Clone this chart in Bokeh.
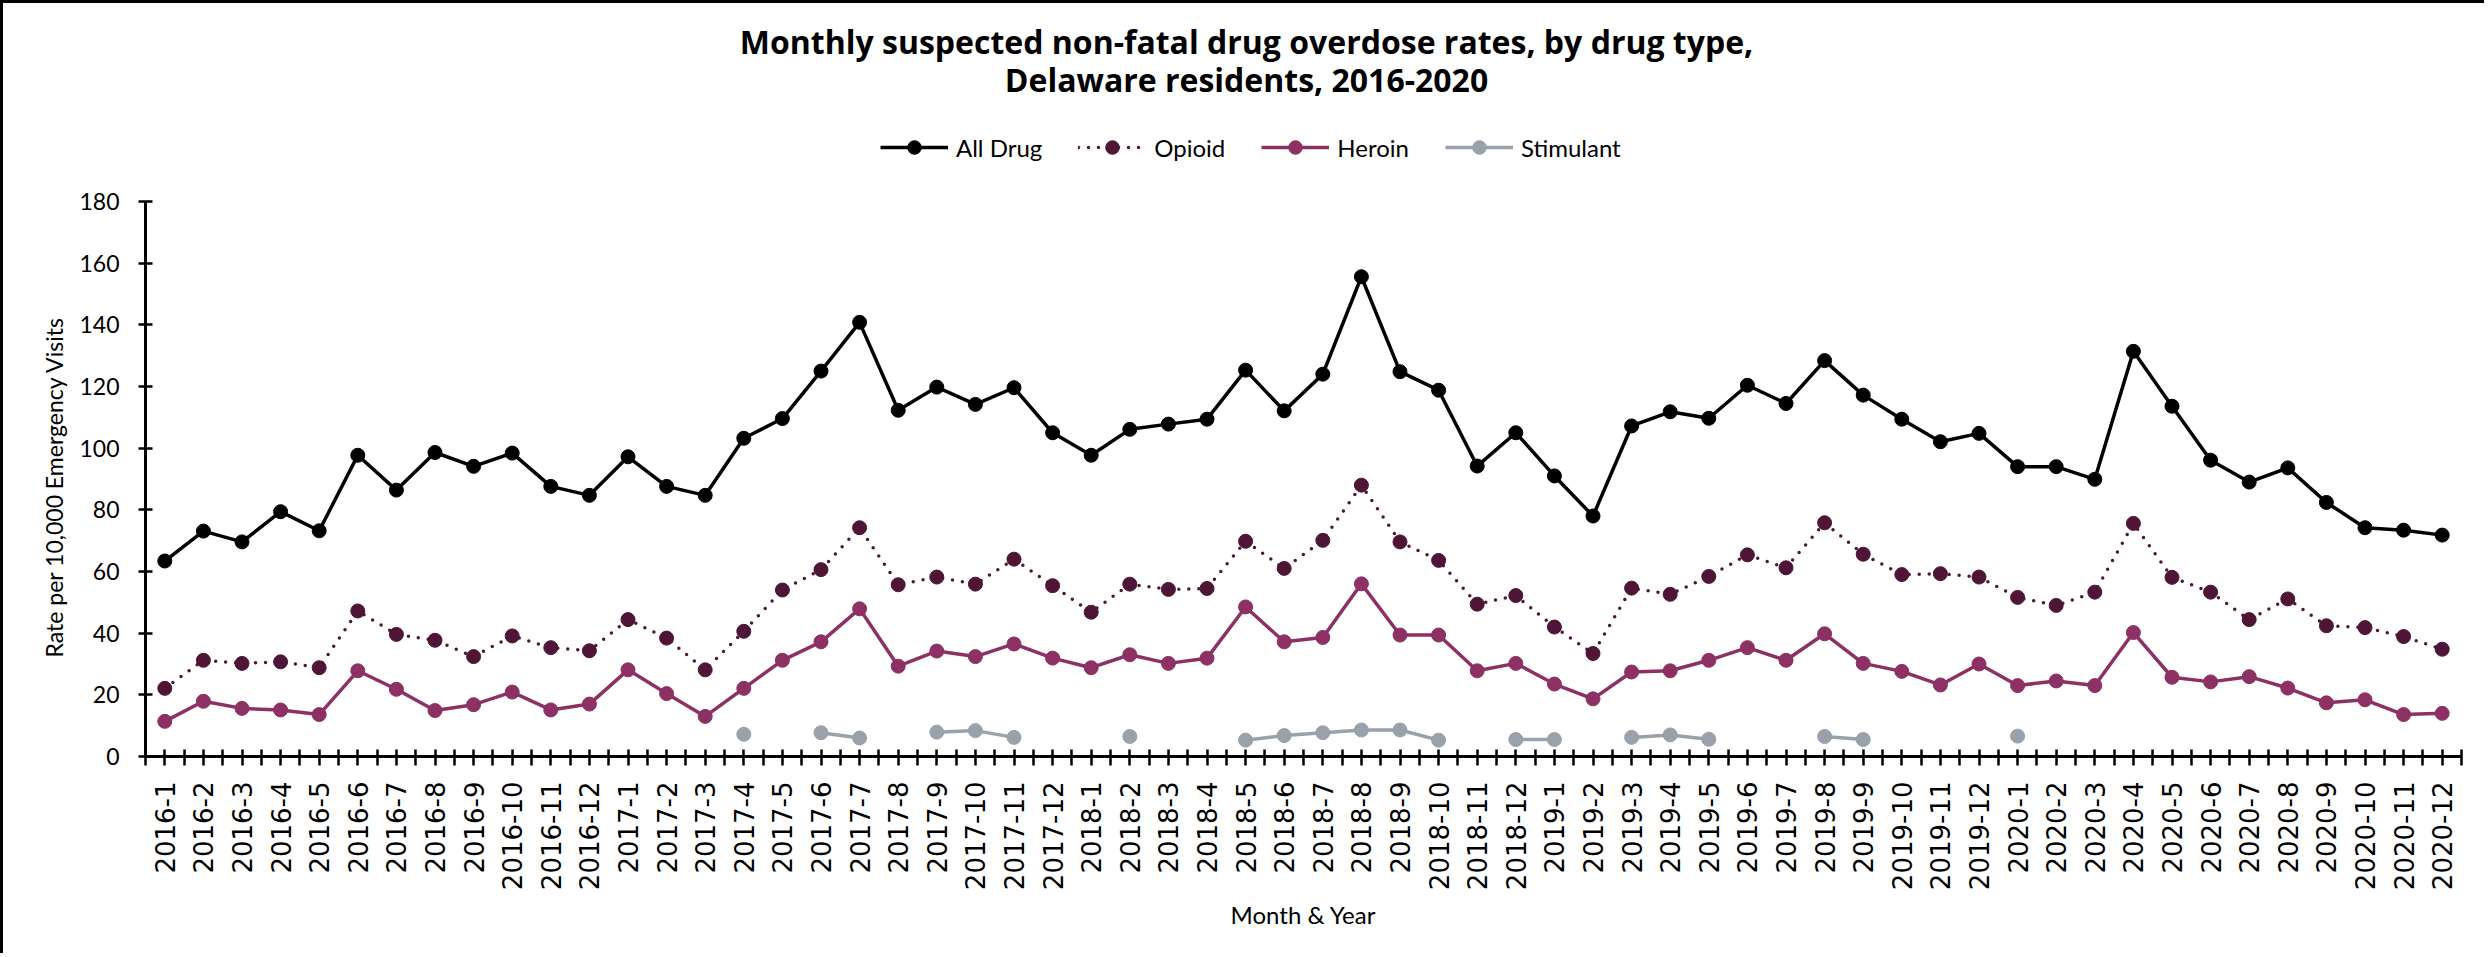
import math
import numpy as np
from bokeh.plotting import figure
from bokeh.models import (Range1d, FixedTicker, Legend, LegendItem, Label, Title,
                          ColumnDataSource)
from bokeh.embed import file_html
from bokeh.resources import INLINE

# ---------------- data ----------------
years = [2016, 2017, 2018, 2019, 2020]
months = list(range(1, 13))
categories = [f"{y}-{m}" for y in years for m in months]

all_drug = [63.4, 73.1, 69.6, 79.4, 73.2, 97.7, 86.4, 98.6, 94.1, 98.4, 87.6, 84.7,
            97.2, 87.6, 84.7, 103.2, 109.6, 125.0, 140.8, 112.3, 119.8, 114.2, 119.6, 105.0,
            97.7, 106.1, 107.8, 109.4, 125.3, 112.1, 124.0, 155.6, 124.8, 118.8, 94.2, 105.0,
            91.0, 78.0, 107.2, 111.8, 109.7, 120.4, 114.5, 128.4, 117.2, 109.4, 102.1, 104.8,
            94.0, 94.0, 89.9, 131.4, 113.6, 96.1, 89.0, 93.6, 82.4, 74.2, 73.4, 71.8]

opioid = [22.1, 31.2, 30.2, 30.7, 28.8, 47.2, 39.6, 37.7, 32.4, 39.1, 35.3, 34.3,
          44.4, 38.4, 28.1, 40.6, 54.0, 60.6, 74.2, 55.7, 58.2, 55.9, 64.0, 55.4,
          46.8, 55.9, 54.2, 54.5, 69.8, 61.0, 70.1, 88.0, 69.6, 63.6, 49.4, 52.2,
          42.0, 33.4, 54.6, 52.6, 58.4, 65.4, 61.2, 75.8, 65.6, 59.0, 59.3, 58.2,
          51.6, 49.0, 53.3, 75.6, 58.1, 53.3, 44.4, 51.1, 42.4, 41.8, 38.9, 34.8]

heroin = [11.4, 17.9, 15.6, 15.1, 13.6, 27.8, 21.8, 14.9, 16.8, 20.9, 15.1, 17.0,
          28.1, 20.4, 13.0, 22.1, 31.2, 37.2, 47.9, 29.3, 34.2, 32.4, 36.5, 31.9,
          28.8, 33.0, 30.2, 31.9, 48.5, 37.2, 38.6, 56.0, 39.4, 39.4, 27.8, 30.2,
          23.5, 18.7, 27.4, 27.8, 31.2, 35.3, 31.2, 39.8, 30.2, 27.6, 23.2, 30.0,
          23.0, 24.5, 23.0, 40.2, 25.7, 24.2, 25.9, 22.2, 17.4, 18.4, 13.6, 14.0]

stimulant = [None, None, None, None, None, None, None, None, None, None, None, None,
             None, None, None, 7.2, None, 7.7, 6.0, None, 7.9, 8.4, 6.2, None,
             None, 6.5, None, None, 5.3, 6.8, 7.7, 8.6, 8.6, 5.3, None, 5.5,
             5.5, None, 6.2, 7.0, 5.6, None, None, 6.5, 5.5, None, None, None,
             6.6, None, None, None, None, None, None, None, None, None, None, None]

y_ticks = [0, 20, 40, 60, 80, 100, 120, 140, 160, 180]
y_axis_max = 180

series_names = ["All Drug", "Opioid", "Heroin", "Stimulant"]
series_colors = ["#000000", "#4f1537", "#8d3063", "#99a1aa"]

title_line1 = "Monthly suspected non-fatal drug overdose rates, by drug type,"
title_line2 = "Delaware residents, 2016-2020"
x_title = "Month & Year"
y_title = "Rate per 10,000 Emergency Visits"

# ---------------- layout numbers (pixels) ----------------
W, H = 2484, 953
BORDER_LEFT, BORDER_RIGHT, BORDER_BOTTOM = 142, 26, 200
AXIS_TOP_PX = 198                       # where y = 180 sits (from canvas top)
frame_h = H - BORDER_BOTTOM
px_per_unit = (frame_h - AXIS_TOP_PX) / y_axis_max
y_view_max = frame_h / px_per_unit      # frame reaches canvas top: room for title/legend

# ---------------- figure ----------------
xs = list(range(1, len(categories) + 1))
src = ColumnDataSource(dict(
    x=xs,
    all_drug=all_drug,
    opioid=opioid,
    heroin=heroin,
    stimulant=[np.nan if v is None else v for v in stimulant],
))

p = figure(width=W, height=H, output_backend="svg", toolbar_location=None,
           title=None,
           x_range=Range1d(0.5, len(categories) + 0.5), y_range=Range1d(0, y_view_max),
           min_border_left=BORDER_LEFT, min_border_right=BORDER_RIGHT,
           min_border_top=0, min_border_bottom=BORDER_BOTTOM)
p.styles = {"border-left": "3px solid #000", "border-top": "3px solid #000"}
p.xgrid.visible = False
p.ygrid.visible = False
p.outline_line_color = None
p.background_fill_color = "white"
p.border_fill_color = "white"

# x axis: ticks at every category centre and boundary
xa = p.xaxis[0]
half_ticks = [0.5 + 0.5 * i for i in range(2 * len(categories) + 1)]
xa.ticker = FixedTicker(ticks=half_ticks)
overrides = {t: "" for t in half_ticks}
for i, c in enumerate(categories):
    overrides[i + 1] = c
xa.major_label_overrides = overrides
xa.major_label_orientation = math.pi / 2
xa.major_label_text_font = "DejaVu Sans"
xa.major_label_text_font_size = "26px"
xa.major_label_text_color = "#000000"
xa.major_label_standoff = 16
xa.major_tick_in = 7
xa.major_tick_out = 9
xa.major_tick_line_width = 2.5
xa.major_tick_line_color = "#000000"
xa.minor_tick_line_color = None
xa.axis_line_width = 3
xa.axis_line_color = "#000000"
xa.axis_label = x_title
xa.axis_label_text_font = "Lato"
xa.axis_label_text_font_size = "24px"
xa.axis_label_text_font_style = "normal"
xa.axis_label_text_color = "#000000"
xa.axis_label_standoff = 7

ya = p.yaxis[0]
ya.ticker = FixedTicker(ticks=y_ticks)
ya.bounds = (0, y_axis_max)
ya.major_label_text_font = "Lato"
ya.major_label_text_font_size = "23px"
ya.major_label_text_color = "#000000"
ya.major_label_standoff = 19
ya.major_tick_in = 7
ya.major_tick_out = 7
ya.major_tick_line_width = 2.5
ya.major_tick_line_color = "#000000"
ya.minor_tick_line_color = None
ya.axis_line_width = 3
ya.axis_line_color = "#000000"

# y-axis title: a left-side Title so it can be centred on the 0-180 axis
# (an axis label would be centred on the whole, taller frame)
ytitle = Title(text=y_title, align="left", offset=99, standoff=18,
               text_font="Lato", text_font_size="23px", text_font_style="normal",
               text_color="#000000")
p.add_layout(ytitle, "left")

# ---------------- series ----------------
cols = ["all_drug", "opioid", "heroin", "stimulant"]
items = []
for name, col, color in zip(series_names, cols, series_colors):
    if name == "Opioid":
        rl = p.line("x", col, source=src, line_color=color, line_width=3.5,
                    line_dash="0 10", line_cap="round")
    else:
        rl = p.line("x", col, source=src, line_color=color, line_width=3.5)
    rm = p.scatter("x", col, source=src, size=14, fill_color=color,
                   line_color=color, marker="circle")
    items.append(LegendItem(label=name, renderers=[rl, rm]))

legend = Legend(items=items, orientation="horizontal", location=(735, 592),
                border_line_color=None, background_fill_alpha=0,
                padding=0, margin=0, spacing=36, glyph_width=68, glyph_height=34,
                label_standoff=8, label_text_font="Lato", label_text_font_size="24px",
                label_text_color="#000000")
p.add_layout(legend)

t1 = Label(x=1101, y=715, x_units="screen", y_units="screen",
           text=title_line1, text_align="center", text_baseline="alphabetic",
           text_font="Open Sans", text_font_style="bold", text_font_size="32px",
           text_color="#000000")
t2 = Label(x=1101, y=677, x_units="screen", y_units="screen",
           text=title_line2, text_align="center", text_baseline="alphabetic",
           text_font="Open Sans", text_font_style="bold", text_font_size="32px",
           text_color="#000000")
p.add_layout(t1)
p.add_layout(t2)

open("out.html", "w").write(file_html(p, INLINE))
